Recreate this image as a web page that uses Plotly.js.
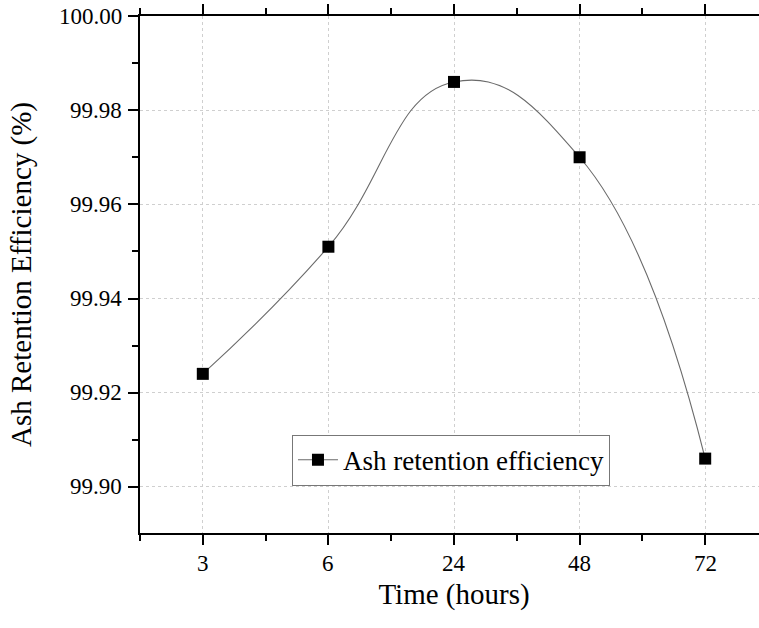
<!DOCTYPE html>
<html>
<head>
<meta charset="utf-8">
<script src="https://cdn.plot.ly/plotly-3.0.1.min.js"></script>
<style>
html,body{margin:0;padding:0;overflow:hidden;background:#fff;}
#chart{width:770px;height:628px;}
</style>
</head>
<body>
<div id="chart"></div>
<script>
// Data
const categories = ['3', '6', '24', '48', '72'];
const efficiency = [99.924, 99.951, 99.986, 99.970, 99.906];
const seriesName = 'Ash retention efficiency';
const yTickVals = [99.90, 99.92, 99.94, 99.96, 99.98, 100.00];
const yTickText = ['99.90', '99.92', '99.94', '99.96', '99.98', '100.00'];

const xIdx = categories.map((_, i) => i);
const FONT = '"Liberation Serif", "Times New Roman", serif';
const xRange = [-0.5, categories.length - 0.5];
const yRange = [99.8902, 100.0];
const labelFont = {family: FONT, size: 23, color: '#000'};

const traces = [
  {
    x: xIdx, y: efficiency, type: 'scatter', mode: 'lines+markers', name: seriesName,
    line: {shape: 'spline', smoothing: 1.3, color: '#6a6a6a', width: 1.1},
    marker: {symbol: 'square', size: 12, color: '#000'},
    hoverinfo: 'x+y'
  }
];

// tick labels drawn as annotations anchored to the axes' own scales
const xLabels = categories.map((c, i) => ({
  text: c, x: xIdx[i], xref: 'x', y: 0, yref: 'paper',
  xanchor: 'center', yanchor: 'top', yshift: -16, showarrow: false, font: labelFont
}));
const yLabels = yTickVals.map((v, i) => ({
  text: yTickText[i], x: 0, xref: 'paper', y: v, yref: 'y',
  xanchor: 'right', yanchor: 'middle', xshift: -16, showarrow: false, font: labelFont
}));

const layout = {
  width: 770, height: 628,
  margin: {l: 140, r: 2, t: 16, b: 95},
  paper_bgcolor: '#fff', plot_bgcolor: '#fff',
  font: {family: FONT, color: '#000', size: 23},
  showlegend: true,
  legend: {
    x: 0.242, y: 0.19, xanchor: 'left', yanchor: 'top',
    bgcolor: '#fff', bordercolor: '#777', borderwidth: 1,
    font: {family: FONT, size: 27, color: '#000'},
    tracegroupgap: 0, itemwidth: 40
  },
  annotations: xLabels.concat(yLabels),
  xaxis: {
    range: xRange, tickmode: 'array', tickvals: xIdx, showticklabels: false,
    showline: true, mirror: 'ticks', linecolor: '#000', linewidth: 1.6,
    ticks: 'outside', ticklen: 10, tickwidth: 1.6, tickcolor: '#000',
    showgrid: true, gridcolor: '#cfcfcf', gridwidth: 1, griddash: 'dot',
    zeroline: false,
    minor: {tickmode: 'linear', tick0: -0.5, dtick: 1, ticks: 'outside', ticklen: 6, tickwidth: 1.6, tickcolor: '#000', showgrid: false},
    title: {text: 'Time (hours)', font: {family: FONT, size: 29, color: '#000'}, standoff: 40},
    automargin: false
  },
  yaxis: {
    range: yRange, tickmode: 'array', tickvals: yTickVals, showticklabels: false,
    showline: true, mirror: 'ticks', linecolor: '#000', linewidth: 1.6,
    ticks: 'outside', ticklen: 10, tickwidth: 1.6, tickcolor: '#000',
    showgrid: true, gridcolor: '#cfcfcf', gridwidth: 1, griddash: 'dot',
    zeroline: false,
    minor: {tickmode: 'linear', tick0: 99.91, dtick: 0.02, ticks: 'outside', ticklen: 6, tickwidth: 1.6, tickcolor: '#000', showgrid: false},
    title: {text: 'Ash Retention Efficiency (%)', font: {family: FONT, size: 29, color: '#000'}, standoff: 88},
    automargin: false
  }
};

Plotly.newPlot('chart', traces, layout, {displayModeBar: false});
</script>
</body>
</html>
